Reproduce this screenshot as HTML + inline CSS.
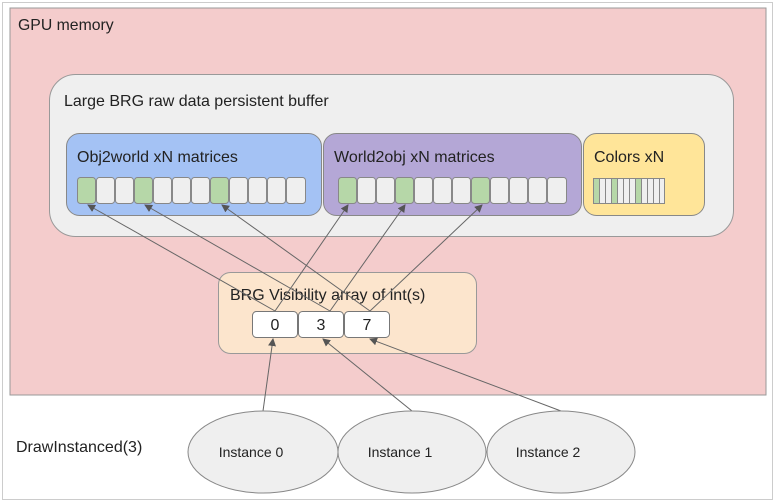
<!DOCTYPE html>
<html><head><style>body{margin:0;background:#fff}svg{display:block}</style></head><body>
<svg width="775" height="502" viewBox="0 0 775 502" xmlns="http://www.w3.org/2000/svg" font-family="Liberation Sans, sans-serif">
<defs><marker id="a" markerWidth="8" markerHeight="8" refX="7" refY="4" orient="auto" markerUnits="userSpaceOnUse"><path d="M0,0 L8,4 L0,8 z" fill="#555"/></marker></defs>
<rect x="2.5" y="2.5" width="770" height="497" fill="#fff" stroke="#ccc"/>
<rect x="10" y="8" width="756" height="387" fill="#f4cccc" stroke="#999"/>
<text x="18" y="30" font-size="15.8" fill="#222">GPU memory</text>
<rect x="49.5" y="74.5" width="684" height="162" rx="26" fill="#efefef" stroke="#999"/>
<text x="64" y="106" font-size="16" fill="#222">Large BRG raw data persistent buffer</text>
<rect x="66.5" y="133.5" width="255" height="82" rx="13" fill="#a4c2f4" stroke="#888"/>
<text x="77" y="162" font-size="16" fill="#222">Obj2world xN matrices</text>
<rect x="323.5" y="133.5" width="258" height="82" rx="13" fill="#b4a7d6" stroke="#888"/>
<text x="334" y="162" font-size="16" fill="#222">World2obj xN matrices</text>
<rect x="583.5" y="133.5" width="121" height="82" rx="13" fill="#ffe599" stroke="#888"/>
<text x="594" y="162" font-size="16" fill="#222">Colors xN</text>
<g stroke="#888" stroke-width="1">
<g id="c1">
<rect x="77.5" y="177.5" width="18" height="26" rx="3" fill="#b6d7a8"/><rect x="96.5" y="177.5" width="18" height="26" rx="3" fill="#efefef"/><rect x="115.5" y="177.5" width="18" height="26" rx="3" fill="#efefef"/><rect x="134.5" y="177.5" width="18" height="26" rx="3" fill="#b6d7a8"/><rect x="153.5" y="177.5" width="18" height="26" rx="3" fill="#efefef"/><rect x="172.5" y="177.5" width="18" height="26" rx="3" fill="#efefef"/><rect x="191.5" y="177.5" width="18" height="26" rx="3" fill="#efefef"/><rect x="210.5" y="177.5" width="18" height="26" rx="3" fill="#b6d7a8"/><rect x="229.5" y="177.5" width="18" height="26" rx="3" fill="#efefef"/><rect x="248.5" y="177.5" width="18" height="26" rx="3" fill="#efefef"/><rect x="267.5" y="177.5" width="18" height="26" rx="3" fill="#efefef"/><rect x="286.5" y="177.5" width="19" height="26" rx="3" fill="#efefef"/>
</g>
<use href="#c1" x="261"/>
<rect x="593.5" y="178.5" width="6" height="25" fill="#b6d7a8"/><rect x="599.5" y="178.5" width="6" height="25" fill="#efefef"/><rect x="605.5" y="178.5" width="6" height="25" fill="#efefef"/><rect x="611.5" y="178.5" width="6" height="25" fill="#b6d7a8"/><rect x="617.5" y="178.5" width="6" height="25" fill="#efefef"/><rect x="623.5" y="178.5" width="6" height="25" fill="#efefef"/><rect x="629.5" y="178.5" width="6" height="25" fill="#efefef"/><rect x="635.5" y="178.5" width="6" height="25" fill="#b6d7a8"/><rect x="641.5" y="178.5" width="6" height="25" fill="#efefef"/><rect x="647.5" y="178.5" width="6" height="25" fill="#efefef"/><rect x="653.5" y="178.5" width="6" height="25" fill="#efefef"/><rect x="659.5" y="178.5" width="5" height="25" fill="#efefef"/>
</g>
<rect x="218.5" y="272.5" width="258" height="81" rx="12" fill="#fce5cd" stroke="#999"/>
<text x="230" y="300" font-size="16" fill="#222">BRG Visibility array of int(s)</text>
<g stroke="#777" fill="#fff"><rect x="252.5" y="311.5" width="45" height="26" rx="4"/><rect x="298.5" y="311.5" width="45" height="26" rx="4"/><rect x="344.5" y="311.5" width="45" height="26" rx="4"/></g>
<g font-size="16" fill="#222" text-anchor="middle"><text x="275" y="330">0</text><text x="321" y="330">3</text><text x="367" y="330">7</text></g>
<g stroke="#666" stroke-width="1" marker-end="url(#a)">
<line x1="275" y1="311" x2="88" y2="205"/>
<line x1="275" y1="311" x2="348" y2="205"/>
<line x1="330" y1="311" x2="145" y2="205"/>
<line x1="330" y1="311" x2="405" y2="205"/>
<line x1="370" y1="311" x2="222" y2="205"/>
<line x1="370" y1="311" x2="482" y2="205"/>
<line x1="263" y1="411" x2="273" y2="339"/>
<line x1="412" y1="411" x2="323" y2="339"/>
<line x1="561" y1="411" x2="370" y2="339"/>
</g>
<text x="16" y="452" font-size="16" fill="#222">DrawInstanced(3)</text>
<g fill="#efefef" stroke="#888"><ellipse cx="263" cy="452" rx="75" ry="41"/><ellipse cx="412" cy="452" rx="74" ry="41"/><ellipse cx="561" cy="452" rx="74" ry="41"/></g>
<g font-size="14" fill="#222" text-anchor="middle"><text x="251" y="457">Instance 0</text><text x="400" y="457">Instance 1</text><text x="548" y="457">Instance 2</text></g>
</svg>
</body></html>
